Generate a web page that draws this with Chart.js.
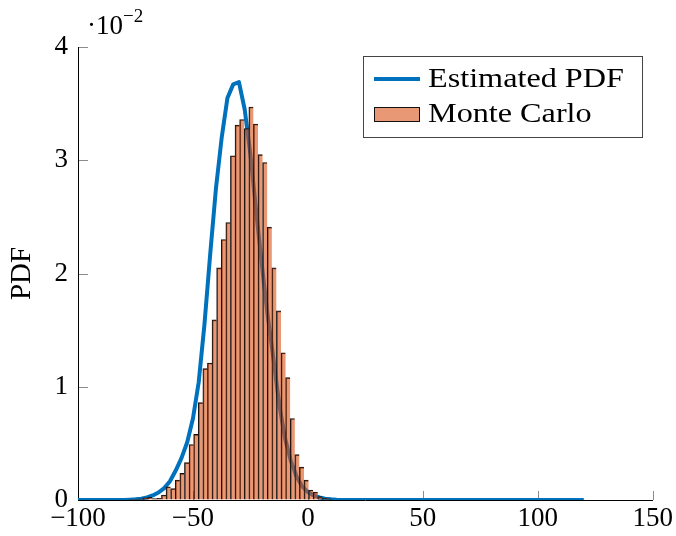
<!DOCTYPE html>
<html>
<head>
<meta charset="utf-8">
<script src="https://cdn.jsdelivr.net/npm/chart.js@4/dist/chart.umd.min.js"></script>
<style>
  html, body { margin: 0; padding: 0; background: #fff; }
  canvas { display: block; }
</style>
</head>
<body>
<canvas id="pdfChart" width="676" height="536"></canvas>
<script>
// All densities are in units of 1e-2 (axis multiplier drawn at the top left)

// Monte Carlo histogram, bin width 2
const binCenters = [
    -76.7, -74.7, -72.7, -70.7, -68.7, -66.7, -64.7, -62.7, -60.7, -58.7, -56.7,
    -54.7, -52.7, -50.7, -48.7, -46.7, -44.7, -42.7, -40.7, -38.7, -36.7, -34.7,
    -32.7, -30.7, -28.7, -26.7, -24.7, -22.7, -20.7, -18.7, -16.7, -14.7, -12.7,
    -10.7, -8.7, -6.7, -4.7, -2.7, -0.7, 1.3, 3.3, 5.3, 7.3, 9.3
];
const mcDensity = [
    0.006, 0.006, 0.01, 0.02, 0.024, 0.012, 0.015, 0.044, 0.117, 0.10, 0.176,
    0.235, 0.33, 0.49, 0.58, 0.86, 1.16, 1.21, 1.59, 2.05, 2.30, 2.45,
    3.04, 3.31, 3.36, 3.28, 3.47, 3.32, 3.05, 2.98, 2.41, 2.05, 1.67,
    1.30, 1.08, 0.72, 0.40, 0.29, 0.176, 0.088, 0.07, 0.03, 0.018, 0.01
];

// Estimated PDF curve
const pdfX = [
    -100, -80, -77.5, -75, -72.5, -70, -67.5, -65, -62.5, -60, -57.5, -55, -52.5,
    -50, -47.5, -45, -42.5, -40, -37.5, -35, -32.5, -30, -27.5, -25, -22.5, -20,
    -17.5, -15, -12.5, -10, -7.5, -5, -2.5, 0, 2.5, 5, 7.5, 10, 12.5, 15, 120
];
const pdfY = [
    0, 0.001, 0.003, 0.006, 0.012, 0.022, 0.04, 0.066, 0.105, 0.165, 0.26, 0.37, 0.51,
    0.72, 1.04, 1.55, 2.17, 2.75, 3.2, 3.55, 3.67, 3.69, 3.45, 3.05, 2.55, 2.07,
    1.63, 1.25, 0.85, 0.55, 0.35, 0.21, 0.12, 0.07, 0.04, 0.022, 0.012, 0.006, 0.002, 0, 0
];

const xTicks = [-100, -50, 0, 50, 100, 150];
const yTicks = [0, 1, 2, 3, 4];

const lineColor = '#0072BD';
const barFill = 'rgba(217, 83, 25, 0.6)';
const serif = '"Liberation Serif", "Times New Roman", serif';

const fmtNum = v => (v < 0 ? '\u2212' + Math.abs(v) : String(v));

// inward tick marks, like a pgfplots axis
const innerTicks = {
    id: 'innerTicks',
    beforeDatasetsDraw(chart) {
        const { ctx, scales: { x, y } } = chart;
        ctx.save();
        ctx.strokeStyle = 'rgba(0, 0, 0, 0.45)';
        ctx.lineWidth = 1;
        ctx.beginPath();
        xTicks.forEach(v => {
            const px = Math.round(x.getPixelForValue(v)) + 0.5;
            ctx.moveTo(px, y.bottom);
            ctx.lineTo(px, y.bottom - 9);
        });
        yTicks.forEach(v => {
            const py = Math.round(y.getPixelForValue(v)) + 0.5;
            ctx.moveTo(x.left, py);
            ctx.lineTo(x.left + 10, py);
        });
        ctx.stroke();
        ctx.restore();
    }
};

// boxed legend in the upper right plus the axis multiplier
const boxedLegend = {
    id: 'boxedLegend',
    afterDraw(chart) {
        const { ctx, scales: { x, y } } = chart;
        const ds = chart.data.datasets;
        ctx.save();

        // ·10^-2
        ctx.fillStyle = '#000';
        ctx.textBaseline = 'alphabetic';
        ctx.font = '27px ' + serif;
        ctx.fillText('\u00b710', x.left + 9, 34);
        ctx.font = '19px ' + serif;
        ctx.fillText('\u22122', x.left + 45, 22);

        const bx = 363.5, by = 56.5, bw = 279, bh = 81;
        ctx.fillStyle = '#fff';
        ctx.fillRect(bx, by, bw, bh);
        ctx.strokeStyle = '#444';
        ctx.lineWidth = 1;
        ctx.strokeRect(bx, by, bw, bh);

        // line sample
        ctx.strokeStyle = ds[0].borderColor;
        ctx.lineWidth = 4;
        ctx.beginPath();
        ctx.moveTo(374, 79);
        ctx.lineTo(420, 79);
        ctx.stroke();

        // bar sample
        ctx.fillStyle = ds[1].backgroundColor;
        ctx.fillRect(374.5, 107.5, 45, 14);
        ctx.strokeStyle = '#111';
        ctx.lineWidth = 1;
        ctx.strokeRect(374.5, 107.5, 45, 14);

        ctx.fillStyle = '#000';
        ctx.font = '28px ' + serif;
        [[ds[0].label, 87], [ds[1].label, 121.5]].forEach(([txt, base]) => {
            ctx.save();
            ctx.translate(428, base);
            ctx.scale(1.15, 1);
            ctx.fillText(txt, 0, 0);
            ctx.restore();
        });
        ctx.restore();
    }
};

new Chart(document.getElementById('pdfChart'), {
    type: 'bar',
    data: {
        datasets: [{
            type: 'line',
            label: 'Estimated PDF',
            data: pdfX.map((v, i) => ({ x: v, y: pdfY[i] })),
            borderColor: lineColor,
            borderWidth: 4,
            borderJoinStyle: 'round',
            pointRadius: 0,
            tension: 0,
            fill: false,
            order: 1
        }, {
            type: 'bar',
            label: 'Monte Carlo',
            data: binCenters.map((v, i) => ({ x: v, y: mcDensity[i] })),
            backgroundColor: barFill,
            borderColor: '#111',
            borderWidth: c => ({
                top: 1,
                left: 1,
                bottom: 0,
                right: c.dataIndex === binCenters.length - 1 ? 1 : 0
            }),
            borderSkipped: 'start',
            barPercentage: 1,
            categoryPercentage: 1,
            order: 0
        }]
    },
    options: {
        responsive: false,
        animation: false,
        layout: { padding: { top: 47, right: 23, left: 0, bottom: 0 } },
        plugins: {
            legend: { display: false },
            tooltip: { enabled: false }
        },
        scales: {
            x: {
                type: 'linear',
                min: -100,
                max: 150,
                offset: false,
                afterFit: s => { s.height = 36; },
                afterBuildTicks: s => { s.ticks = xTicks.map(v => ({ value: v })); },
                grid: { drawOnChartArea: false, drawTicks: false, offset: false },
                border: { color: '#000', width: 1 },
                ticks: {
                    padding: 3,
                    maxRotation: 0,
                    color: '#000',
                    font: { family: serif, size: 27 },
                    callback: v => fmtNum(v)
                }
            },
            y: {
                min: 0,
                max: 4,
                afterFit: s => { s.width = 78; },
                afterBuildTicks: s => { s.ticks = yTicks.map(v => ({ value: v })); },
                grid: { drawOnChartArea: false, drawTicks: false },
                border: { color: '#000', width: 1 },
                ticks: {
                    padding: 10,
                    color: '#000',
                    font: { family: serif, size: 27 },
                    callback: v => fmtNum(v)
                },
                title: {
                    display: true,
                    text: 'PDF',
                    color: '#000',
                    font: { family: serif, size: 29 },
                    padding: { top: 5, bottom: 0 }
                }
            }
        }
    },
    plugins: [innerTicks, boxedLegend]
});
</script>
</body>
</html>
